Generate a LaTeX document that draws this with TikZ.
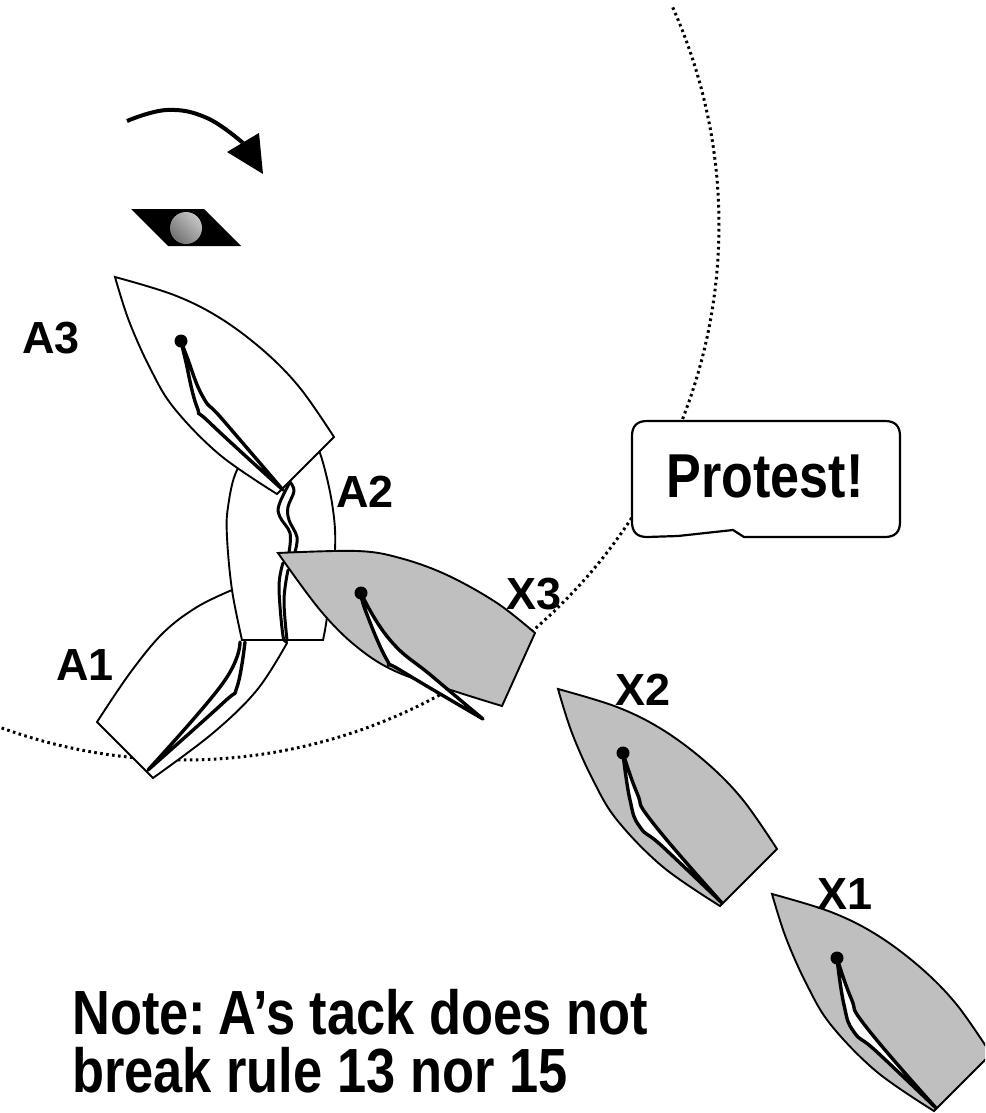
\documentclass[tikz,border=0pt]{standalone}
\usepackage{fontspec}
\setmainfont{Liberation Sans}
\newfontfamily\narrowbold[FakeStretch=0.84]{Liberation Sans Bold}
\newfontfamily\labelbold{Liberation Sans Bold}
\definecolor{hullcol}{gray}{0.75}
\tikzset{
  hullwhite/.style={draw=black,fill=white,line width=1.9pt,line join=miter},
  hullgray/.style={draw=black,fill=hullcol,line width=1.9pt,line join=miter},
  sailshape/.style={draw=black,fill=white,line width=3.4pt,line join=round,line cap=round},
  sailline/.style={draw=black,line width=3pt,line join=round,line cap=round},
  boatlabel/.style={font=\labelbold\fontsize{45}{45}\selectfont,inner sep=0pt,anchor=base},
  bigtext/.style={font=\narrowbold\fontsize{62.4}{58}\selectfont,inner sep=0pt,anchor=base west}
}
\newcommand{\stdhull}[1]{%
  \draw[#1] plot[smooth,tension=.6] coordinates {(558,689) (617,707) (663,730) (707,763) (743,800) (777,849)}
    -- (720,906)
    -- plot[smooth,tension=.6] coordinates {(720,906) (663,867) (617,820) (593,780) (572,733) (558,689)} -- cycle;}
\newcommand{\stdsail}{%
  \draw[sailshape] plot[smooth,tension=.8] coordinates {(623,753) (630,800) (640,827) (663,847) (722,903)}
    -- plot[smooth,tension=.8] coordinates {(722,903) (653,823) (637,793) (623,753)} -- cycle;
  \fill (623,753) circle (6.5);}
\begin{document}
\begin{tikzpicture}[x=1pt,y=-1pt]
\useasboundingbox (0,0) rectangle (985,1113);
\clip (0,0) rectangle (985,1113);
% dotted circle
\draw[line width=3pt,dash pattern=on 2.6pt off 3.4pt] plot[smooth,samples=90,domain=-24:110] ({184+535*cos(\x)},{225+535*sin(\x)});
% turning arrow
\draw[line width=4pt] plot[smooth,tension=.7] coordinates {(127,121) (167,110) (207,118) (243,143)};
\fill (259,133) -- (263,174) -- (227,152) -- cycle;
% eye
\fill (131,209) -- (204,209) -- (241,246) -- (168,246) -- cycle;
\fill[black] (186,228) circle (18);
\shade[top color=gray!45,bottom color=gray!90!black,shading angle=-45] (186,228) circle (16);
% A1
\draw[hullwhite] (97,722) -- plot[smooth,tension=.6] coordinates {(97,722) (130,673) (163,633) (197,607) (232,590)}
  -- (287,643) -- plot[smooth,tension=.6] coordinates {(287,643) (257,690) (213,733) (153,778)} -- cycle;
\draw[sailshape] plot[smooth,tension=.7] coordinates {(245,642) (237,687) (223,703) (148,770)}
  -- plot[smooth,tension=.7] coordinates {(148,770) (223,683) (240,642)};
% A2
\draw[hullwhite] (242,640) -- plot[smooth,tension=.6] coordinates {(242,640) (232,590) (227,537) (228,507) (237,470) (260,440)}
  -- (310,440) -- plot[smooth,tension=.6] coordinates {(310,440) (320,453) (332,503) (335,550) (327,617) (323,640)} -- cycle;
\draw[sailline] plot[smooth,tension=.6] coordinates {(290,482) (279,505) (280,517) (290,533) (289,552)};
\draw[sailline] plot[smooth,tension=.6] coordinates {(290,482) (294,491) (288,507) (289,520) (297,537) (295,552)};
\draw[sailline] plot[smooth,tension=.6] coordinates {(283,563) (279,587) (283,636) (287,640)};
\draw[sailline] plot[smooth,tension=.6] coordinates {(288,570) (284,600) (287,640)};
% A3
\begin{scope}[shift={(-443,-412)}]
  \stdhull{hullwhite}
  \draw[sailshape] plot[smooth,tension=.8] coordinates {(624,753) (628,770) (640,819) (653,835) (726,902)}
    -- plot[smooth,tension=.8] coordinates {(726,902) (666,832) (646,809) (630,769) (624,753)} -- cycle;
  \fill (624,753) circle (6.5);
\end{scope}
% X3
\draw[hullgray] plot[smooth,tension=.6] coordinates {(278,553) (357,551) (400,558) (447,575) (497,603) (535,633)}
  -- (502,706) -- plot[smooth,tension=.6] coordinates {(502,706) (457,692) (397,672) (357,647) (320,610) (278,553)} -- cycle;
\draw[sailshape] plot[smooth,tension=.8] coordinates {(361,593) (366,612) (387,660) (400,670) (483,719)}
  -- plot[smooth,tension=.8] coordinates {(483,719) (433,677) (390,640) (361,593)} -- cycle;
\fill (361,593) circle (6.5);
% X2, X1
\stdhull{hullgray}
\stdsail
\begin{scope}[shift={(214,205)}]
  \stdhull{hullgray}
  \stdsail
\end{scope}
% bubble
\draw[line width=2.2pt,fill=white] (647,421) -- (885,421) .. controls (895,421) and (900,426) .. (900,436)
  -- (900,522) .. controls (900,532) and (895,537) .. (885,537)
  -- (744,537) -- (733,530) -- (678,536) -- (647,537) .. controls (637,537) and (632,532) .. (632,522)
  -- (632,436) .. controls (632,426) and (637,421) .. (647,421) -- cycle;
\node[font=\narrowbold\fontsize{62}{62}\selectfont,inner sep=0pt,anchor=base] (protest) at (765,497) {Protest!};
% labels
\node[boatlabel] (la3) at (51,353) {A3};
\node[boatlabel] (la2) at (365,507) {A2};
\node[boatlabel] (la1) at (85,680) {A1};
\node[boatlabel] (lx3) at (534,609) {X3};
\node[boatlabel] (lx2) at (643,705) {X2};
\node[boatlabel] (lx1) at (845,909) {X1};
\node[bigtext] (n1) at (72,1034) {Note:\hspace{-7pt} A’s tack does not};
\node[bigtext] (n2) at (72,1092) {break rule 13 nor 15};
\end{tikzpicture}
\end{document}
